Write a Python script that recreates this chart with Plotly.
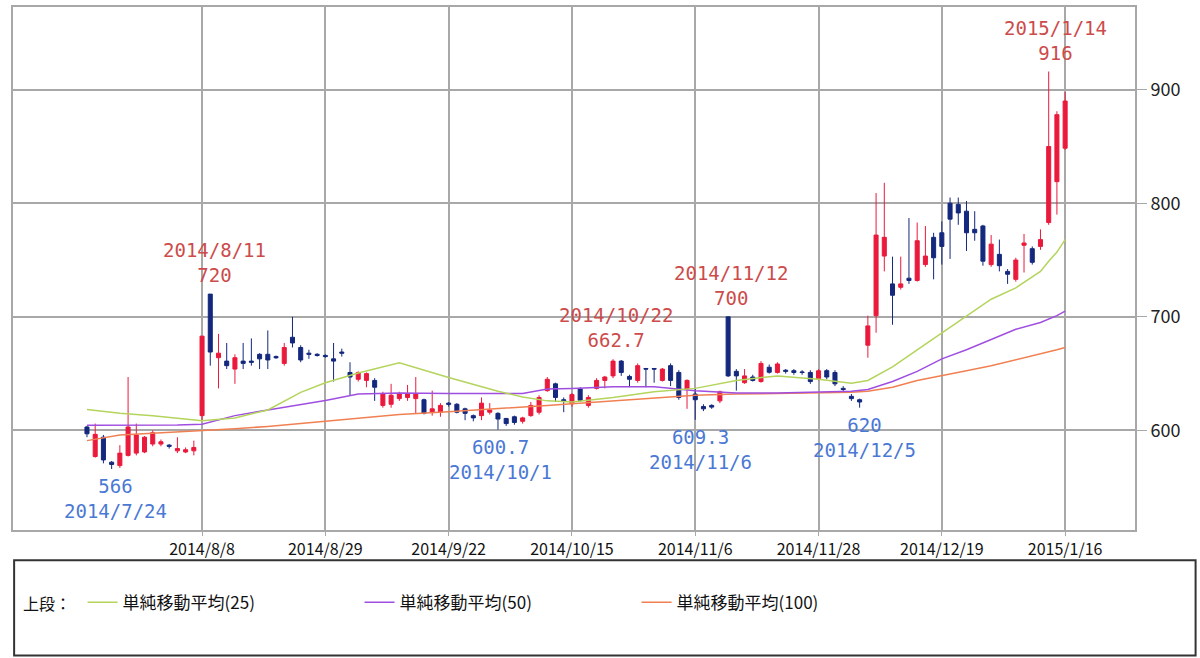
import plotly.graph_objects as go

# ---------------- data ----------------
dates = [
    "2014/7/18", "2014/7/22", "2014/7/23", "2014/7/24", "2014/7/25", "2014/7/28", "2014/7/29", "2014/7/30",
    "2014/7/31", "2014/8/1", "2014/8/4", "2014/8/5", "2014/8/6", "2014/8/7", "2014/8/8", "2014/8/11",
    "2014/8/12", "2014/8/13", "2014/8/14", "2014/8/15", "2014/8/18", "2014/8/19", "2014/8/20", "2014/8/21",
    "2014/8/22", "2014/8/25", "2014/8/26", "2014/8/27", "2014/8/28", "2014/8/29", "2014/9/1", "2014/9/2",
    "2014/9/3", "2014/9/4", "2014/9/5", "2014/9/8", "2014/9/9", "2014/9/10", "2014/9/11", "2014/9/12",
    "2014/9/16", "2014/9/17", "2014/9/18", "2014/9/19", "2014/9/22", "2014/9/24", "2014/9/25", "2014/9/26",
    "2014/9/29", "2014/9/30", "2014/10/1", "2014/10/2", "2014/10/3", "2014/10/6", "2014/10/7", "2014/10/8",
    "2014/10/9", "2014/10/10", "2014/10/14", "2014/10/15", "2014/10/16", "2014/10/17", "2014/10/20", "2014/10/21",
    "2014/10/22", "2014/10/23", "2014/10/24", "2014/10/27", "2014/10/28", "2014/10/29", "2014/10/30", "2014/10/31",
    "2014/11/4", "2014/11/5", "2014/11/6", "2014/11/7", "2014/11/10", "2014/11/11", "2014/11/12", "2014/11/13",
    "2014/11/14", "2014/11/17", "2014/11/18", "2014/11/19", "2014/11/20", "2014/11/21", "2014/11/25", "2014/11/26",
    "2014/11/27", "2014/11/28", "2014/12/1", "2014/12/2", "2014/12/3", "2014/12/4", "2014/12/5", "2014/12/8",
    "2014/12/9", "2014/12/10", "2014/12/11", "2014/12/12", "2014/12/15", "2014/12/16", "2014/12/17", "2014/12/18",
    "2014/12/19", "2014/12/22", "2014/12/24", "2014/12/25", "2014/12/26", "2014/12/29", "2014/12/30", "2015/1/5",
    "2015/1/6", "2015/1/7", "2015/1/8", "2015/1/9", "2015/1/13", "2015/1/14", "2015/1/15", "2015/1/16",
]

opens = [
    603, 577, 594, 572, 569, 578, 580, 581, 588, 588, 587, 582, 581, 582, 613, 720,
    664, 661, 654, 661, 661, 667, 667, 665, 659, 682, 673, 668, 667, 666, 663, 669,
    651, 645, 644, 644, 622, 623, 628, 629, 628, 627, 616, 616, 624, 623, 619, 613,
    613, 616, 615, 610.5, 612, 608, 613, 616, 635, 641, 627, 623.5, 636.5, 622, 637, 644,
    648, 661, 647.5, 644, 654.5, 654.5, 644, 657, 651, 636.5, 632, 621, 622, 626, 700, 652,
    642, 647, 643, 655.6, 651, 653, 652.6, 651.5, 651, 645.5, 652.6, 651, 637, 630, 627, 675,
    701, 753.5, 729, 726, 734, 732, 746, 770, 774, 800, 799, 793, 777, 780, 746, 755,
    740, 733, 763, 760, 762, 783, 819, 848.5,
]
highs = [
    604, 606, 596, 573, 587, 647, 606, 595, 600, 592, 588, 594, 585, 591, 683, 720,
    685, 677, 667, 677, 681, 668, 688, 666, 677, 700, 675, 671, 668, 667, 677, 672,
    660, 652, 651, 646, 634, 641, 634, 640, 647, 628, 635, 624, 625, 624, 620, 614,
    629, 624, 616, 611, 613, 612, 625, 631, 647, 642, 629, 633, 638, 631, 646, 648,
    662.7, 662, 649, 659, 655, 655, 655, 659, 653, 645, 637, 623, 623, 635, 700, 654,
    654, 649, 661, 658, 660, 654, 654, 653, 653, 654, 654, 653, 639, 632, 628, 701,
    809, 818, 753, 753, 787, 783, 780, 774, 784, 805, 805, 802, 793, 781, 772, 768,
    742, 752, 773, 762, 777, 916, 881, 898,
]
lows = [
    594, 576, 571, 566, 567, 577, 578, 580, 586, 586, 584, 580, 580, 578, 609, 657,
    637, 654, 641, 654, 657, 654, 654, 663, 657, 673, 660, 663, 665, 664, 643, 665,
    631, 643, 638, 626, 620, 620, 626, 626, 615, 614, 613, 612, 621, 615, 609, 608,
    609, 614, 600.7, 604, 605, 606, 612, 614, 634, 625, 616, 621, 625, 620, 636, 637,
    646, 648, 638, 642, 638, 642, 643, 639, 627, 619, 609.3, 617, 619, 624, 647, 635,
    641, 643, 642, 650, 650, 650, 649, 649, 641, 644, 645, 639, 634, 626, 620, 664,
    686, 740, 693, 724, 729, 731, 744, 733, 746, 751, 781, 758, 767, 745, 744, 740,
    729, 731, 739, 746, 759, 781, 790, 847,
]
closes = [
    597, 596.5, 574, 570, 580, 603, 596, 594, 598, 590, 586, 584, 583, 585, 683, 669,
    668, 657, 664, 659, 660, 663, 662, 664, 673, 677, 662, 667, 666, 665, 661, 668,
    647, 651, 650, 638, 632, 631, 632, 632, 632, 615, 619, 622, 623, 616, 615, 611,
    624, 618, 610, 606, 607, 611, 622, 629, 645, 629, 626, 631.5, 626.5, 629, 644, 647,
    661, 651, 645, 657, 654, 654, 654, 644, 629, 644, 627, 619, 620.5, 634, 648, 648,
    648, 644, 659, 651.2, 658.5, 652, 651, 651, 643, 652.5, 647, 641, 636, 628, 625, 692,
    772, 770, 719, 729, 732, 767, 753.5, 752, 762, 786, 791.5, 774, 774, 749, 764, 745,
    737.5, 750, 765, 748, 768, 850, 878, 890,
]

# simple moving averages (at sample dates)
ma_dates = [
    "2014/7/18", "2014/7/25", "2014/7/31", "2014/8/5", "2014/8/8", "2014/8/14", "2014/8/20", "2014/8/26",
    "2014/8/29", "2014/9/4", "2014/9/11", "2014/9/22", "2014/10/1", "2014/10/6", "2014/10/9", "2014/10/15",
    "2014/10/22", "2014/10/29", "2014/11/6", "2014/11/13", "2014/11/20", "2014/11/28", "2014/12/4", "2014/12/8",
    "2014/12/11", "2014/12/16", "2014/12/19", "2014/12/25", "2014/12/30", "2015/1/7", "2015/1/13", "2015/1/14",
    "2015/1/15", "2015/1/16",
]
ma25 = [
    618.5, 615, 613, 611, 608.5, 611, 618, 633.5, 642, 650.5, 659.5, 646.5, 634.5, 629.5, 626, 625,
    629, 634, 637, 644, 648, 645, 641.5, 644, 656, 671, 686, 701, 715.5, 725.5, 740, 749,
    757, 768,
]
ma50 = [
    604.5, 604.5, 604.5, 604.8, 605.5, 613, 618, 622.5, 626.3, 632, 633, 632.5, 632.5, 632.5, 636.5, 637,
    638.5, 638.5, 635, 633, 633, 634, 634.5, 636, 643, 652, 663, 671, 680, 689, 695, 698,
    701, 705,
]
ma100 = [
    591, 596, 597.5, 598.5, 600, 601.5, 603.5, 606, 608, 611, 614, 616.5, 619, 620.5, 622, 623.5,
    626, 629, 631, 632, 632.5, 633, 633.5, 634.5, 638, 644, 648, 652.5, 657, 662, 667, 669,
    671, 673,
]

tick_dates = ["2014/8/8", "2014/8/29", "2014/9/22", "2014/10/15", "2014/11/6", "2014/11/28",
              "2014/12/19", "2015/1/16"]
y_ticks = [600, 700, 800, 900]

# labelled extremes: (date, value, label date text, value text, x offset px)
high_marks = [("2014/8/11", 720, "2014/8/11", "720", 4),
              ("2014/10/22", 662.7, "2014/10/22", "662.7", 3),
              ("2014/11/12", 700, "2014/11/12", "700", 3),
              ("2015/1/14", 916, "2015/1/14", "916", 7)]
low_marks = [("2014/7/24", 566, "2014/7/24", "566", 4),
             ("2014/10/1", 600.7, "2014/10/1", "600.7", 3),
             ("2014/11/6", 609.3, "2014/11/6", "609.3", 5),
             ("2014/12/5", 620, "2014/12/5", "620", 5)]

legend_names = ["単純移動平均(25)", "単純移動平均(50)", "単純移動平均(100)"]

# ---------------- styling ----------------
RED = "#ea1a3c"
BLUE = "#14287e"
C25 = "#b4d45c"
C50 = "#a04ee0"
C100 = "#f08052"
GRID = "#a8a8a8"
JP = "Noto Sans CJK JP"
MONO = "DejaVu Sans Mono"

fig = go.Figure()

fig.add_trace(go.Candlestick(
    x=dates, open=opens, high=highs, low=lows, close=closes,
    increasing=dict(line=dict(color=RED, width=1), fillcolor=RED),
    decreasing=dict(line=dict(color=BLUE, width=1), fillcolor=BLUE),
    whiskerwidth=0, showlegend=False, name="price",
))

fig.add_trace(go.Scatter(x=ma_dates, y=ma100, mode="lines", name=legend_names[2],
                         line=dict(color=C100, width=1.5), showlegend=False, hoverinfo="skip"))
fig.add_trace(go.Scatter(x=ma_dates, y=ma50, mode="lines", name=legend_names[1],
                         line=dict(color=C50, width=1.5), showlegend=False, hoverinfo="skip"))
fig.add_trace(go.Scatter(x=ma_dates, y=ma25, mode="lines", name=legend_names[0],
                         line=dict(color=C25, width=1.5), showlegend=False, hoverinfo="skip"))

# legend entries
for name, col in zip(legend_names, [C25, C50, C100]):
    fig.add_trace(go.Scatter(x=[None], y=[None], mode="lines", name=name,
                             line=dict(color=col, width=1.5), showlegend=True))

annotations = []
for d, v, dtxt, vtxt, xs in high_marks:
    annotations.append(dict(x=d, y=v, xref="x", yref="y", text=f"{dtxt}<br>{vtxt}",
                            showarrow=False, yanchor="bottom", xanchor="center", yshift=6, xshift=xs,
                            font=dict(family=MONO, size=19, color="#cc4b4b")))
for d, v, dtxt, vtxt, xs in low_marks:
    annotations.append(dict(x=d, y=v, xref="x", yref="y", text=f"{vtxt}<br>{dtxt}",
                            showarrow=False, yanchor="top", xanchor="center", yshift=-4, xshift=xs,
                            font=dict(family=MONO, size=19, color="#4a78d4")))
annotations.append(dict(x=0.007, y=-0.139, xref="paper", yref="paper", text="上段：",
                        showarrow=False, xanchor="left", yanchor="middle",
                        font=dict(family=JP, size=16, color="#111")))

fig.update_layout(
    width=1200, height=658,
    margin=dict(l=13, r=65, t=5, b=128),
    paper_bgcolor="white", plot_bgcolor="white",
    annotations=annotations,
    shapes=[dict(type="rect", xref="paper", yref="paper", x0=0.001, x1=1.054, y0=-0.240, y1=-0.058,
                 line=dict(color="#333", width=2), fillcolor="rgba(0,0,0,0)")],
    legend=dict(orientation="h", x=0.062, y=-0.139, xanchor="left", yanchor="middle",
                font=dict(family=JP, size=17, color="#111"), entrywidth=232, entrywidthmode="pixels",
                bgcolor="rgba(0,0,0,0)", itemwidth=30),
    xaxis=dict(type="category", categoryorder="array", categoryarray=dates,
               range=[-9.0, 127.5], tickmode="array", tickvals=tick_dates,
               ticktext=tick_dates, tickangle=0, showgrid=True, gridcolor=GRID, gridwidth=2,
               showline=True, linecolor=GRID, linewidth=2, mirror=True,
               ticks="outside", ticklen=4, tickcolor=GRID,
               tickfont=dict(family=JP, size=16, color="#111"),
               rangeslider=dict(visible=False), zeroline=False),
    yaxis=dict(side="right", range=[512.3, 972.8], tickmode="array", tickvals=y_ticks,
               showgrid=True, gridcolor=GRID, gridwidth=2,
               showline=True, linecolor=GRID, linewidth=2, mirror=True,
               ticks="outside", ticklen=10, tickcolor=GRID,
               tickfont=dict(family=JP, size=18, color="#222"), zeroline=False),
    showlegend=True,
)

fig.write_html("out.html")
